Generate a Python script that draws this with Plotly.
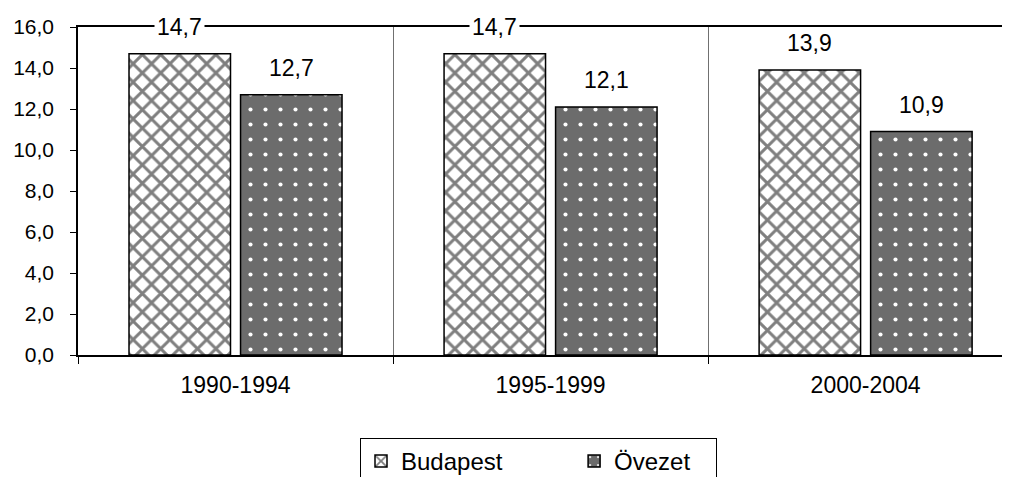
import plotly.graph_objects as go

categories = ["1990-1994", "1995-1999", "2000-2004"]
budapest = [14.7, 14.7, 13.9]
ovezet = [12.7, 12.1, 10.9]
series_names = ["Budapest", "Övezet"]
y_ticks = [0, 2, 4, 6, 8, 10, 12, 14, 16]

FONT = "Liberation Sans, Arial, sans-serif"
BARGAP = 0.292
GROUPGAP = 0.09
NB = "\u00a0"
# the page body has an 8px margin, so the figure is drawn 8px smaller
W, H = 1002, 469

fig = go.Figure()
fig.add_trace(go.Bar(
    x=categories, y=budapest, name=series_names[0] + NB * 10,
    marker=dict(color="white", line=dict(color="black", width=1.5),
                pattern=dict(shape="x", fgcolor="black", bgcolor="white",
                             size=13, solidity=0.4, fillmode="overlay")),
))
fig.add_trace(go.Bar(
    x=categories, y=ovezet, name=series_names[1] + NB * 3,
    marker=dict(color="#6c6c6c", line=dict(color="black", width=1.5),
                pattern=dict(shape=".", fgcolor="white", bgcolor="#6c6c6c",
                             size=15, solidity=0.06, fillmode="replace")),
))

off = (1 - BARGAP) / 4
annotations = []
for i, (b, o) in enumerate(zip(budapest, ovezet)):
    for val, dx in ((b, -off), (o, off)):
        annotations.append(dict(
            x=i + dx, y=val, xref="x", yref="y", yshift=27,
            text=f"{val:.1f}".replace(".", ","), showarrow=False,
            font=dict(family=FONT, size=23, color="black"),
            bgcolor="white", borderpad=2, yanchor="middle",
        ))

fig.update_layout(
    width=W, height=H,
    margin=dict(l=70, r=2, t=19, b=122, autoexpand=False),
    paper_bgcolor="white", plot_bgcolor="white",
    separators=", ",
    barmode="group", bargap=BARGAP, bargroupgap=GROUPGAP,
    font=dict(family=FONT, size=23, color="black"),
    annotations=annotations,
    showlegend=True,
    legend=dict(orientation="h", xref="container", yref="container",
                x=352 / W, xanchor="left", y=(H - 430) / H, yanchor="top",
                bordercolor="black", borderwidth=1, bgcolor="white",
                font=dict(family=FONT, size=24, color="black")),
    xaxis=dict(
        type="category", range=[-0.5, 2.452],
        showline=True, linecolor="black", linewidth=2, mirror=True,
        ticks="outside", tickson="boundaries", ticklen=7, tickcolor="black",
        showgrid=True, gridcolor="#707070", gridwidth=1,
        tickfont=dict(family=FONT, size=23, color="black"),
        ticklabelstandoff=8,
    ),
    yaxis=dict(
        range=[0, 16], tickvals=y_ticks, tickformat=".1f",
        showline=True, linecolor="black", linewidth=1.5, mirror=False,
        ticks="outside", ticklen=6, tickcolor="black",
        showgrid=False, zeroline=False,
        tickfont=dict(family=FONT, size=21, color="black"),
        ticklabelstandoff=12,
    ),
)

fig.write_html("out.html")
